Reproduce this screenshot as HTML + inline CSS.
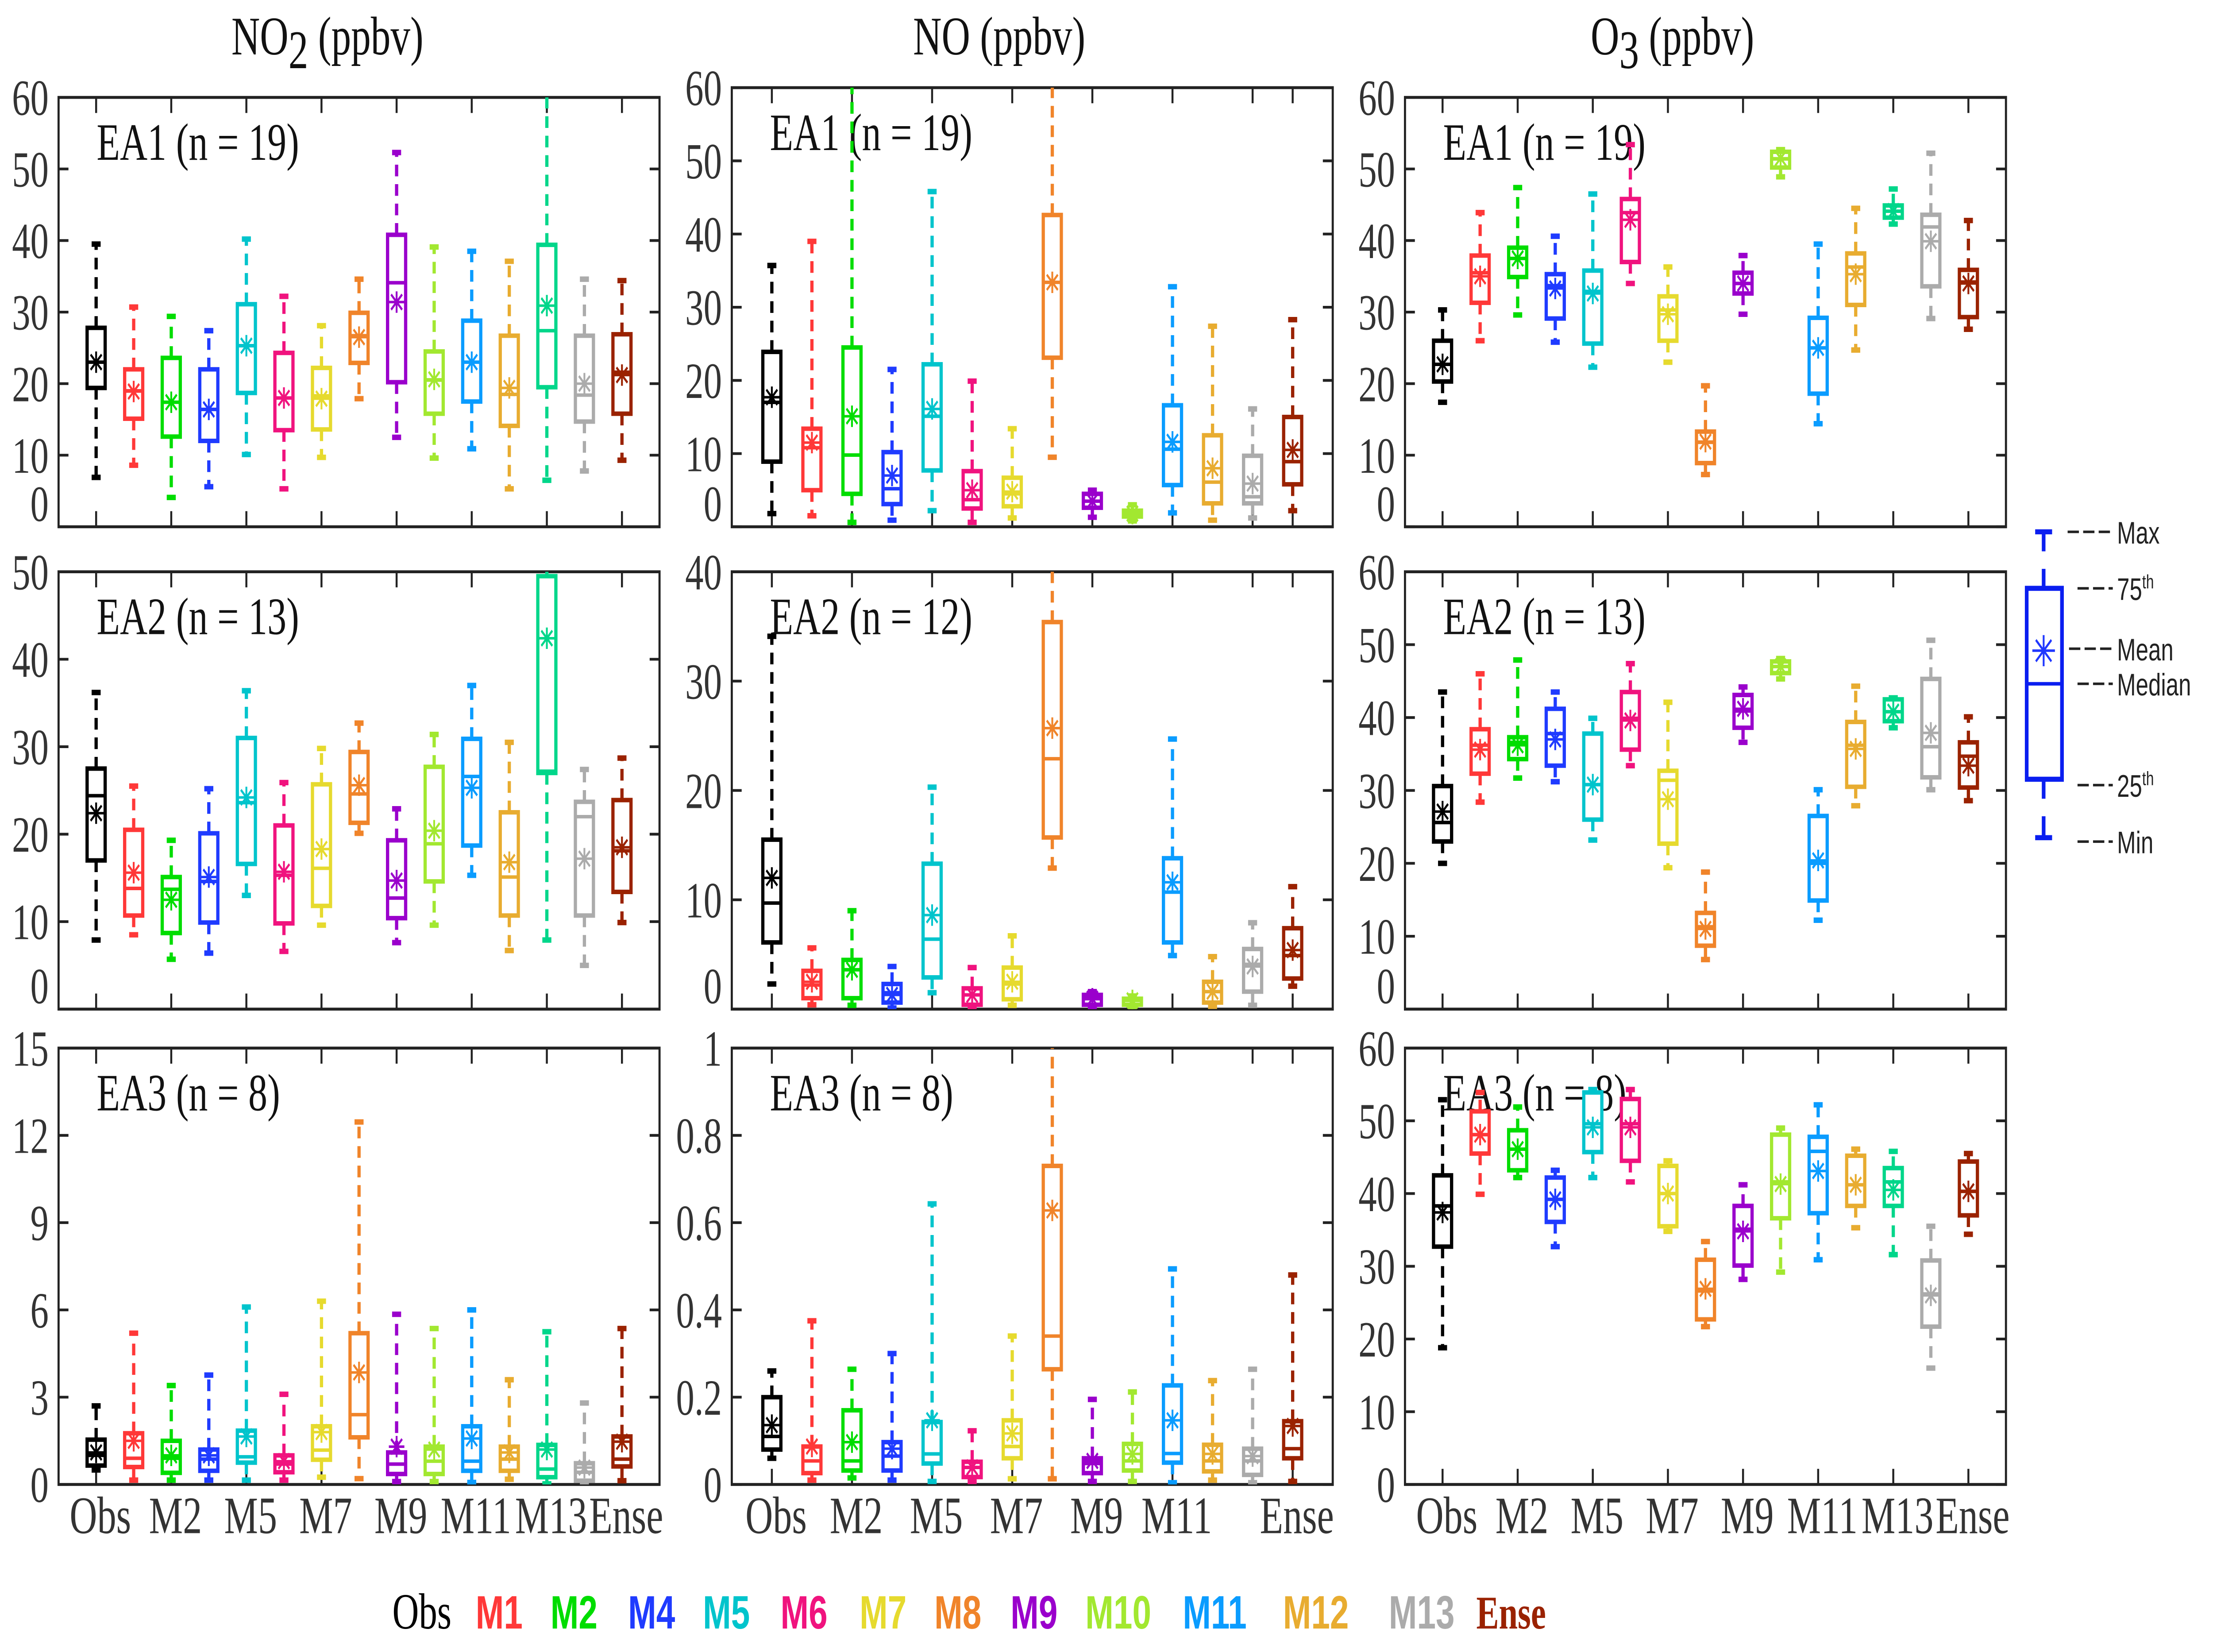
<!DOCTYPE html>
<html><head><meta charset="utf-8"><style>
html,body{margin:0;padding:0;background:#fff;overflow:hidden;width:100vw;height:100vh;}
svg{display:block;width:100vw;height:100vh;}
</style></head><body>
<svg id="chart" xmlns="http://www.w3.org/2000/svg" viewBox="0 0 1568 848" preserveAspectRatio="none">
<rect x="0" y="0" width="1568" height="848" fill="#fff"/>
<text x="232" y="28" font-family="Liberation Serif, serif" font-size="28" text-anchor="middle" fill="#111">NO<tspan font-size="28" dy="7">2</tspan><tspan dy="-7"> (ppbv)</tspan></text>
<text x="708" y="28" font-family="Liberation Serif, serif" font-size="28" text-anchor="middle" fill="#111">NO (ppbv)</text>
<text x="1185" y="28" font-family="Liberation Serif, serif" font-size="28" text-anchor="middle" fill="#111">O<tspan dy="7">3</tspan><tspan dy="-7"> (ppbv)</tspan></text>
<g id="panels"></g>
<g id="boxlegend"></g>
<g id="legend"></g>
</svg>
<script>
// ---------- data ----------
const cats15 = ["Obs","M1","M2","M4","M5","M6","M7","M8","M9","M10","M11","M12","M13","M14","Ense"];
const cats14 = ["Obs","M1","M2","M4","M5","M6","M7","M8","M9","M10","M11","M12","M13","Ense"];
const xlab15 = ["Obs","","M2","","M5","","M7","","M9","","M11","","M13","","Ense"];
const xlab14 = ["Obs","","M2","","M5","","M7","","M9","","M11","","","Ense"];
const yt60 = [0,10,20,30,40,50,60];
const yt50 = [0,10,20,30,40,50];
const yt40 = [0,10,20,30,40];
const yt15 = [0,3,6,9,12,15];
const yt1 = [0,0.2,0.4,0.6,0.8,1];
const yt1lab = ["0","0.2","0.4","0.6","0.8","1"];

// NO2 EA1
const no2_1_max = [39.5,30.7,29.4,27.4,40.2,32.2,28.1,34.6,52.3,39.1,38.5,37.1,65,34.6,34.4];
const no2_1_q3  = [27.8,22,23.6,22,31.1,24.3,22.2,29.9,40.8,24.5,28.8,26.7,39.4,26.7,26.9];
const no2_1_med = [23,19,17.4,16.4,25.3,18,18.3,26.7,34.1,20.5,23,18.5,27.4,18.4,21.6];
const no2_1_q1  = [19.4,15.1,12.6,12,18.7,13.5,13.6,22.9,20.2,15.8,17.5,14.1,19.5,14.7,15.8];
const no2_1_min = [6.9,8.6,4.1,5.6,10.1,5.3,9.7,17.9,12.5,9.6,10.9,5.3,6.5,7.8,9.3];
const no2_1_mean= [23,18.9,17.4,16.4,25.3,18,17.9,26.5,31.4,20.6,23,19.4,30.9,20,21.2];
// NO2 EA2
const no2_2_max = [36.2,25.5,19.3,25.2,36.4,25.9,29.8,32.7,22.9,31.4,37,30.5,56,27.4,28.7];
const no2_2_q3  = [27.5,20.5,15.1,20.1,31,21,25.7,29.4,19.3,27.7,30.9,22.5,49.5,23.7,23.9];
const no2_2_med = [24.4,13.8,13.7,14.6,23.6,15.3,16.1,24.6,12.7,18.9,26.6,15.1,27.2,22,18.1];
const no2_2_q1  = [17,10.7,8.7,9.9,16.6,9.8,11.8,21.3,10.4,14.6,18.7,10.7,27,10.7,13.4];
const no2_2_min = [7.9,8.5,5.7,6.4,13,6.6,9.6,20.1,7.6,9.6,15.3,6.7,7.9,5,9.9];
const no2_2_mean= [22.4,15.6,12.5,15.1,24.2,15.7,18.3,25.6,14.7,20.4,25.3,16.8,42.4,17.2,18.5];
// NO2 EA3
const no2_3_max = [2.7,5.2,3.4,3.76,6.1,3.1,6.3,12.46,5.85,5.36,6.0,3.6,5.25,2.8,5.36];
const no2_3_q3  = [1.54,1.76,1.5,1.2,1.85,1.0,2.0,5.2,1.1,1.3,2.0,1.3,1.36,0.73,1.65];
const no2_3_med = [1.0,0.9,0.9,0.87,0.95,0.7,1.18,2.4,0.7,0.8,0.8,0.87,0.53,0.42,0.87];
const no2_3_q1  = [0.65,0.6,0.4,0.47,0.75,0.42,0.85,1.62,0.36,0.36,0.47,0.47,0.25,0.13,0.62];
const no2_3_min = [0.5,0.15,0.15,0.15,0.15,0.15,0.25,0.2,0.1,0.1,0.07,0.18,0.02,0.02,0.13];
const no2_3_mean= [1.1,1.5,1.0,1.0,1.65,0.8,1.8,3.85,1.3,1.2,1.58,1.1,1.2,0.58,1.47];
// NO EA1
const no_1_max = [35.7,39,65,21.5,45.8,19.9,13.4,65,5,3,32.8,27.4,16.1,28.3];
const no_1_q3  = [23.9,13.4,24.5,10.2,22.2,7.6,6.7,42.6,4.5,2.2,16.6,12.5,9.7,15];
const no_1_med = [17,10.8,9.8,5.2,15.1,3.7,4.5,33.4,3.5,1.8,10.6,6.1,4.1,8.9];
const no_1_q1  = [8.9,5,4.5,3.1,7.7,2.5,2.8,23.1,2.6,1.4,5.7,3.2,3.2,5.8];
const no_1_min = [1.8,1.5,0.6,0.9,2.2,0.6,1.2,9.5,1.3,0.8,1.9,0.9,1.2,2.2];
const no_1_mean= [17.7,11.5,15.1,7,16.1,5,4.8,33.4,3.5,1.8,11.6,8,5.9,10.5];
// NO EA2
const no_2_max = [34.1,5.6,9,3.9,20.3,3.8,6.7,45,1.6,1.2,24.7,4.8,7.9,11.2];
const no_2_q3  = [15.5,3.5,4.5,2.3,13.3,1.9,3.8,35.4,1.3,0.95,13.8,2.5,5.5,7.4];
const no_2_med = [9.7,2.2,3.6,1.5,6.4,1.3,2.3,22.9,0.95,0.8,10.7,1.6,4.1,4.9];
const no_2_q1  = [6.1,1.0,1.0,0.6,2.9,0.4,0.9,15.7,0.4,0.4,6.1,0.6,1.6,2.8];
const no_2_min = [2.3,0.4,0.35,0.1,1.5,0.1,0.35,12.9,0.17,0.1,4.9,0.26,0.35,2.1];
const no_2_mean= [12,2.5,3.6,1.3,8.6,1.3,2.5,25.7,0.95,0.8,11.6,1.6,3.9,5.4];
// NO EA3
const no_3_max = [0.26,0.375,0.264,0.3,0.643,0.123,0.34,1.2,0.195,0.212,0.494,0.238,0.264,0.48];
const no_3_q3  = [0.2,0.087,0.17,0.097,0.143,0.052,0.147,0.73,0.06,0.093,0.227,0.091,0.082,0.145];
const no_3_med = [0.11,0.054,0.054,0.065,0.07,0.039,0.087,0.34,0.048,0.054,0.071,0.054,0.054,0.082];
const no_3_q1  = [0.08,0.026,0.032,0.032,0.048,0.017,0.06,0.264,0.026,0.032,0.05,0.03,0.022,0.06];
const no_3_min = [0.06,0.01,0.015,0.01,0.007,0.007,0.013,0.013,0.007,0.007,0.004,0.01,0.004,0.007];
const no_3_mean= [0.136,0.087,0.097,0.082,0.147,0.039,0.117,0.628,0.054,0.07,0.147,0.07,0.065,0.134];
// O3 EA1
const o3_1_max = [30.3,43.9,47.4,40.6,46.5,53.4,36.3,19.7,37.9,52.7,39.5,44.5,47.2,52.2,42.8];
const o3_1_q3  = [26,37.9,39,35.3,35.8,45.8,32.2,13.3,35.5,52.4,29.2,38.2,44.9,43.6,35.9];
const o3_1_med = [22.7,35.5,37.5,33.7,32.9,43.9,30.3,11.8,34,51.4,25,36.3,44.1,41.9,34.2];
const o3_1_q1  = [20.3,31.3,34.9,29.1,25.6,37,26,8.9,32.6,50.2,18.6,31,43.2,33.6,29.3];
const o3_1_min = [17.4,26,29.6,25.8,22.3,34,23,7.3,29.7,48.9,14.4,24.7,42.3,29.1,27.6];
const o3_1_mean= [22.7,35,37.5,33.3,32.6,42.9,29.7,11.9,34,51.5,25,35.3,44.1,39.9,34];
// O3 EA2
const o3_2_max = [43.5,46,47.9,43.5,39.9,47.4,42.1,18.8,44.2,48.1,30.1,44.3,42.7,50.6,40.1];
const o3_2_q3  = [30.6,38.4,37.3,41.2,37.8,43.5,32.7,13.2,43.1,47.7,26.5,39.4,42.5,45.3,36.6];
const o3_2_med = [25.6,36.2,36.6,37.8,30.8,39.9,31.4,11.3,40.9,47,20,36.2,40.8,36,34.7];
const o3_2_q1  = [23,32.3,34.3,33.4,26,35.6,22.7,8.7,38.6,46.1,14.9,30.5,39.5,31.8,30.4];
const o3_2_min = [20,28.4,31.7,31.2,23.2,33.4,19.4,6.8,36.6,45.3,12.2,27.9,38.6,30.1,28.6];
const o3_2_mean= [27.1,35.6,36.2,37,30.8,39.6,28.8,11,41.2,47,20.4,35.7,40.8,37.9,33.4];
// O3 EA3
const o3_3_max = [52.9,53.9,51.9,43.2,54.3,54.3,44.5,33.4,41.2,49,52.2,46.1,45.8,35.5,45.5];
const o3_3_q3  = [42.5,51.3,48.7,42.2,53.9,53,43.8,30.9,38.3,48.1,47.8,45.2,43.5,30.8,44.4];
const o3_3_med = [38.3,48.1,46.1,39.2,49.6,49.6,40,26.6,35.1,41.6,45.8,41.2,41.6,26.2,40.3];
const o3_3_q1  = [32.7,45.5,43.2,36.1,45.7,44.5,35.5,22.7,30.1,36.6,37.3,38.3,38.3,21.7,37];
const o3_3_min = [18.8,39.9,42.2,32.7,42.2,41.6,34.8,21.7,28.2,29.2,30.9,35.3,31.6,16,34.4];
const o3_3_mean= [37.4,48.1,46.1,39.2,49.1,49.1,40,26.9,34.8,41.3,43.1,41.2,40.5,26,40.3];

// ---------- styling ----------
const col15 = ["#000000","#FF3838","#00DD00","#1F3BFF","#00C4CC","#F0137E","#E6DA2E","#F0842A","#9A00CC","#A2E830","#0A9CFF","#E8AC30","#00D68A","#ABABAB","#9A2200"];
const col14 = ["#000000","#FF3838","#00DD00","#1F3BFF","#00C4CC","#F0137E","#E6DA2E","#F0842A","#9A00CC","#A2E830","#0A9CFF","#E8AC30","#ABABAB","#9A2200"];
const NS = "http://www.w3.org/2000/svg";
function mk(tag, attrs, parent){
  const e = document.createElementNS(NS, tag);
  for (const k in attrs) e.setAttribute(k, attrs[k]);
  parent.appendChild(e);
  return e;
}
const colX = [41.5, 518.5, 995.5];
const W = 425.8;
const panels = [
 {c:0,r:0,top:50,bot:270.4,ymin:0,ymax:60,ticks:yt60,tl:null,cats:cats15,xl:xlab15,cols:col15,lab:"EA1 (n = 19)",d:[no2_1_min,no2_1_q1,no2_1_med,no2_1_q3,no2_1_max,no2_1_mean],raise:true,name:"no2-ea1"},
 {c:0,r:1,top:293.5,bot:518,ymin:0,ymax:50,ticks:yt50,tl:null,cats:cats15,xl:xlab15,cols:col15,lab:"EA2 (n = 13)",d:[no2_2_min,no2_2_q1,no2_2_med,no2_2_q3,no2_2_max,no2_2_mean],raise:true,name:"no2-ea2"},
 {c:0,r:2,top:538,bot:762,ymin:0,ymax:15,ticks:yt15,tl:null,cats:cats15,xl:xlab15,cols:col15,lab:"EA3 (n = 8)",d:[no2_3_min,no2_3_q1,no2_3_med,no2_3_q3,no2_3_max,no2_3_mean],raise:false,name:"no2-ea3"},
 {c:1,r:0,top:45,bot:270.4,ymin:0,ymax:60,ticks:yt60,tl:null,cats:cats14,xl:xlab14,cols:col14,lab:"EA1 (n = 19)",d:[no_1_min,no_1_q1,no_1_med,no_1_q3,no_1_max,no_1_mean],raise:true,name:"no-ea1"},
 {c:1,r:1,top:293.5,bot:518,ymin:0,ymax:40,ticks:yt40,tl:null,cats:cats14,xl:xlab14,cols:col14,lab:"EA2 (n = 12)",d:[no_2_min,no_2_q1,no_2_med,no_2_q3,no_2_max,no_2_mean],raise:true,name:"no-ea2"},
 {c:1,r:2,top:538,bot:762,ymin:0,ymax:1,ticks:yt1,tl:yt1lab,cats:cats14,xl:xlab14,cols:col14,lab:"EA3 (n = 8)",d:[no_3_min,no_3_q1,no_3_med,no_3_q3,no_3_max,no_3_mean],raise:false,name:"no-ea3"},
 {c:2,r:0,top:50,bot:270.4,ymin:0,ymax:60,ticks:yt60,tl:null,cats:cats15,xl:xlab15,cols:col15,lab:"EA1 (n = 19)",d:[o3_1_min,o3_1_q1,o3_1_med,o3_1_q3,o3_1_max,o3_1_mean],raise:true,name:"o3-ea1"},
 {c:2,r:1,top:293.5,bot:518,ymin:0,ymax:60,ticks:yt60,tl:null,cats:cats15,xl:xlab15,cols:col15,lab:"EA2 (n = 13)",d:[o3_2_min,o3_2_q1,o3_2_med,o3_2_q3,o3_2_max,o3_2_mean],raise:true,name:"o3-ea2"},
 {c:2,r:2,top:538,bot:762,ymin:0,ymax:60,ticks:yt60,tl:null,cats:cats15,xl:xlab15,cols:col15,lab:"EA3 (n = 8)",d:[o3_3_min,o3_3_q1,o3_3_med,o3_3_q3,o3_3_max,o3_3_mean],raise:false,name:"o3-ea3"}
];
const root = document.getElementById("panels");
const defs = mk("defs", {}, root);
const SW = 2.3;
panels.forEach((p, pi) => {
  const L = colX[p.c], R = L + W;
  const n = p.cats.length;
  const xS = i => L + (i + 1) / (n + 1) * W;
  const yS = v => p.bot - (v - p.ymin) / (p.ymax - p.ymin) * (p.bot - p.top);
  const g = mk("g", {}, root);
  
  
  const cp = mk("clipPath", {id: "cp" + pi}, defs);
  mk("rect", {x: L, y: p.top, width: W, height: p.bot - p.top}, cp);
  p.ticks.forEach((t, k) => {
    const y = yS(t);
    const tk = mk("path", {d: `M${L},${y}h7M${R},${y}h-7`, stroke: "#222", "stroke-width": 1.4, fill: "none"}, g);
    
    
    const lab = p.tl ? p.tl[k] : String(t);
    let ly = y + 9;
    if (t === 0 && p.raise) ly -= 12;
    const tx = mk("text", {x: L - 7, y: ly, "font-family": "Liberation Serif, serif", "font-size": 26, "text-anchor": "end", fill: "#333"}, g);
    tx.textContent = lab;
    
    
  });
  p.xl.forEach((lab, i) => {
    const showTick = lab !== "" || (n === 14 && i === 12);
    const x = xS(i);
    if (showTick) {
      const tk = mk("path", {d: `M${x},${p.bot}v-8M${x},${p.top}v8`, stroke: "#222", "stroke-width": 1.4, fill: "none"}, g);
      
      
    }
    if (p.r === 2 && lab !== "") {
      const tx = mk("text", {x: x + 3, y: 787, "font-family": "Liberation Serif, serif", "font-size": 27, "text-anchor": "middle", fill: "#333"}, g);
      tx.textContent = lab;
      
      
    }
  });
  const fr = mk("rect", {x: L, y: p.top, width: W, height: p.bot - p.top, fill: "none", stroke: "#222", "stroke-width": 1.5}, g);
  
  
  const pl = mk("text", {x: L + 27, y: p.top + 32, "font-family": "Liberation Serif, serif", "font-size": 27, fill: "#111"}, g);
  pl.textContent = p.lab;
  
  
  const mg = mk("g", {"clip-path": `url(#cp${pi})`}, g);
  const [mn, q1, md, q3, mx, me] = p.d;
  const bw = 12.8, cw = 6.4;
  for (let i = 0; i < n; i++) {
    const x = xS(i), c = p.cols[i];
    const bg = mk("g", {stroke: c, "stroke-width": SW, fill: "none"}, mg);
    
    
    const wh = mk("path", {d: `M${x},${yS(q3[i])}V${yS(mx[i])}M${x},${yS(q1[i])}V${yS(mn[i])}`, "stroke-dasharray": "6 4"}, bg);
    
    
    const cap = mk("path", {d: `M${x - cw / 2},${yS(mx[i])}h${cw}M${x - cw / 2},${yS(mn[i])}h${cw}`, "stroke-width": 2.8}, bg);
    
    
    const bx = mk("rect", {x: x - bw / 2, y: yS(q3[i]), width: bw, height: Math.max(0.5, yS(q1[i]) - yS(q3[i])), fill: "#fff"}, bg);
    
    
    const ml = mk("path", {d: `M${x - bw / 2},${yS(md[i])}h${bw}`, "stroke-width": 1.8}, bg);
    
    
    const my = yS(me[i]), r = 5.5, d = 3.9;
    const ast = mk("path", {d: `M${x - r},${my}h${2 * r}M${x},${my - r}v${2 * r}M${x - d},${my - d}l${2 * d},${2 * d}M${x - d},${my + d}l${2 * d},${-2 * d}`, "stroke-width": 1.3}, bg);
    
    
  }
});

// ---------- box legend ----------
const bl = document.getElementById("boxlegend");
const bc = "#0A1EF0";
const bx0 = 1448;
const blp = mk("path", {d: `M${bx0 - 6},273h12M${bx0},273v10M${bx0},292v10M${bx0},400v10M${bx0},419v10M${bx0 - 6},430h12`, stroke: bc, "stroke-width": 2.6, fill: "none"}, bl);


const blb = mk("rect", {x: 1436, y: 302, width: 25, height: 98, stroke: bc, "stroke-width": 2.6, fill: "none"}, bl);


const blm = mk("path", {d: "M1436,351h25", stroke: bc, "stroke-width": 1.8}, bl);


const bla = mk("path", {d: "M1440,334h16M1448,326v16M1442.5,328.5l11,11M1442.5,339.5l11,-11", stroke: "#2038FF", "stroke-width": 1.3}, bl);


const bLabs = [["Max",273,1465,""],["75",302,1472,"th"],["Mean",333,1466,""],["Median",351,1472,""],["25",403,1472,"th"],["Min",432,1472,""]];
bLabs.forEach(b => {
  const ln = mk("path", {d: `M${b[2]},${b[1]}h${1500 - b[2] - 3}`, stroke: "#222", "stroke-width": 1.3, "stroke-dasharray": "8 3"}, bl);
  
  
  const t = mk("text", {x: 1500, y: b[1] + 6, "font-family": "Liberation Sans, sans-serif", "font-size": 16, fill: "#222"}, bl);
  t.textContent = b[0];
  if (b[3]) { const s = mk("tspan", {dy: -6, "font-size": 10}, t); s.textContent = b[3]; }
  
  
});

// ---------- model legend ----------
const lg = document.getElementById("legend");
const legNames = ["Obs","M1","M2","M4","M5","M6","M7","M8","M9","M10","M11","M12","M13","Ense"];
const legX = [278,337,390,445,498,553,609,662,716,769,838,909,984,1046];
legNames.forEach((nm, i) => {
  const t = mk("text", {x: legX[i], y: 836, "font-size": 24, fill: col14[i]}, lg);
  if (i === 0) { t.setAttribute("font-family", "Liberation Serif, serif"); t.setAttribute("font-size", 26); }
  else if (nm === "Ense") { t.setAttribute("font-family", "Liberation Serif, serif"); t.setAttribute("font-weight", "bold"); }
  else { t.setAttribute("font-family", "Liberation Sans, sans-serif"); t.setAttribute("font-weight", "bold"); }
  t.textContent = nm;
  
  
});
</script>
</body></html>
